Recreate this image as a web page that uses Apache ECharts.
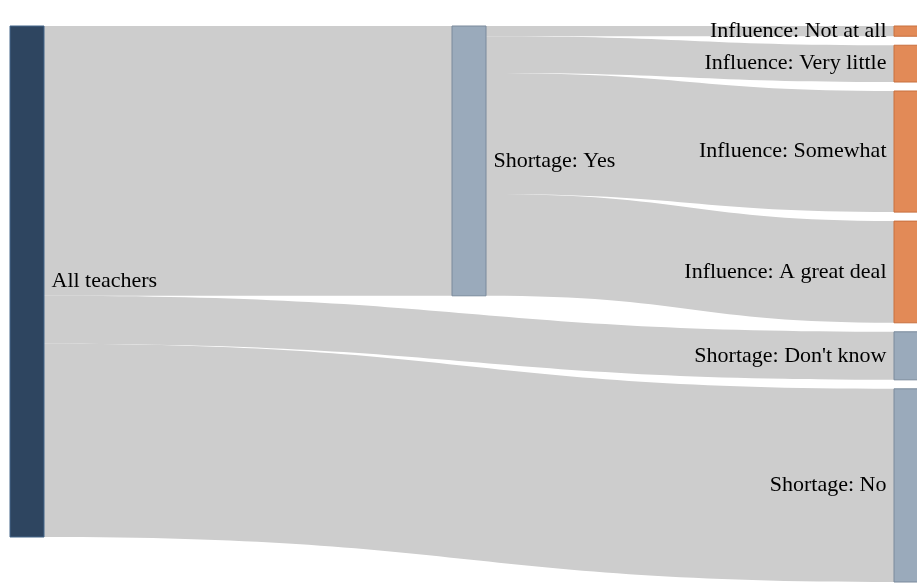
<!DOCTYPE html>
<html>
<head>
<meta charset="utf-8">
<script src="https://cdn.jsdelivr.net/npm/echarts@6/dist/echarts.min.js"></script>
<style>
html,body{margin:0;padding:0;background:#fff;}
#chart{width:917px;height:584px;}
</style>
</head>
<body>
<div id="chart"></div>
<script>
// Data (percent of all teachers)
const nodeNames = [
  'All teachers',
  'Shortage: Yes',
  'Influence: Not at all',
  'Influence: Very little',
  'Influence: Somewhat',
  'Influence: A great deal',
  "Shortage: Don't know",
  'Shortage: No'
];
const nodeGroups = ['root', 'shortage', 'influence', 'influence', 'influence', 'influence', 'shortage', 'shortage'];
const linkSources = ['All teachers', 'All teachers', 'All teachers', 'Shortage: Yes', 'Shortage: Yes', 'Shortage: Yes', 'Shortage: Yes'];
const linkTargets = ['Shortage: Yes', "Shortage: Don't know", 'Shortage: No', 'Influence: Not at all', 'Influence: Very little', 'Influence: Somewhat', 'Influence: A great deal'];
const linkValues = [52.8, 9.4, 37.8, 2.0, 7.2, 23.7, 19.9];

const groupStyle = {
  root: {color: '#2e4560', borderColor: '#44678a'},
  shortage: {color: '#9aaabb', borderColor: '#7a8a9c'},
  influence: {color: '#e28a57', borderColor: '#c8703e'}
};
const labelLeft = {"Shortage: Don't know": 1, 'Shortage: No': 1,
  'Influence: Not at all': 1, 'Influence: Very little': 1, 'Influence: Somewhat': 1, 'Influence: A great deal': 1};

const data = nodeNames.map((n, i) => ({
  name: n,
  itemStyle: Object.assign({borderWidth: 1}, groupStyle[nodeGroups[i]]),
  label: {position: labelLeft[n] ? 'left' : 'right'}
}));
const links = linkSources.map((s, i) => ({source: s, target: linkTargets[i], value: linkValues[i]}));

const chart = echarts.init(document.getElementById('chart'), null, {renderer: 'canvas'});
chart.setOption({
  animation: false,
  series: [{
    type: 'sankey',
    left: 10,
    right: -11,
    top: 26,
    bottom: 2,
    nodeWidth: 34,
    nodeGap: 9,
    nodeAlign: 'justify',
    layoutIterations: 0,
    draggable: false,
    emphasis: {disabled: true},
    data: data,
    links: links,
    label: {
      fontFamily: '"Liberation Serif", "Times New Roman", serif',
      fontSize: 22,
      color: '#000',
      distance: 7
    },
    lineStyle: {color: '#cdcdcd', opacity: 1, curveness: 0.5}
  }]
});
</script>
</body>
</html>
